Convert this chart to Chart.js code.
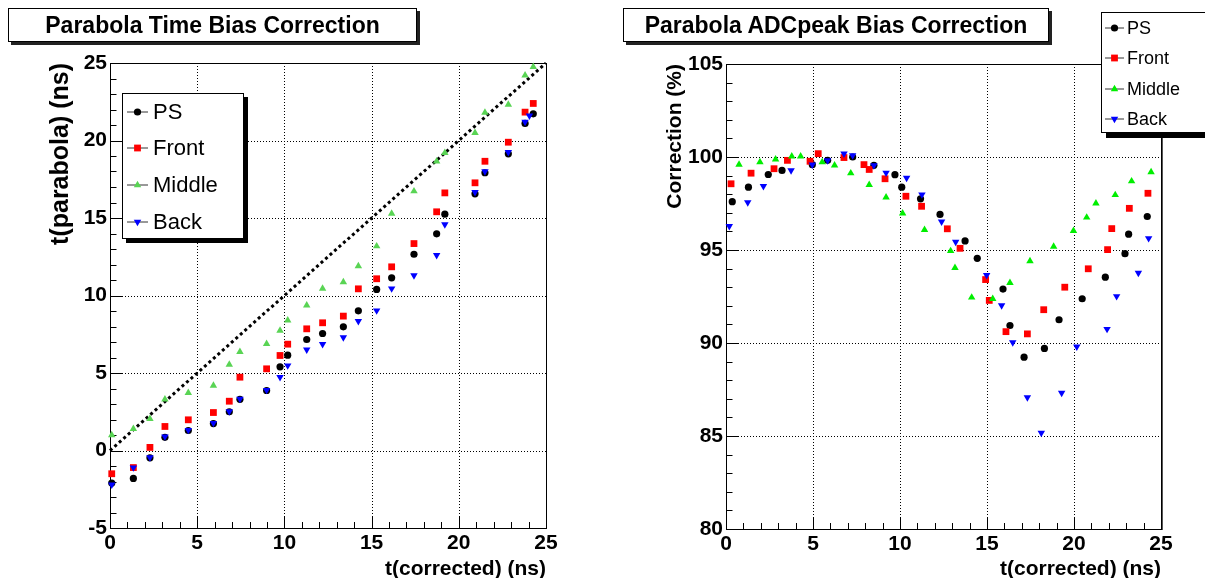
<!DOCTYPE html>
<html><head><meta charset="utf-8">
<script src="https://cdn.jsdelivr.net/npm/chart.js@4.4.1/dist/chart.umd.min.js"></script>
<style>
html,body{margin:0;padding:0;background:#fff}
body{width:1205px;height:578px;position:relative;overflow:hidden;font-family:'Liberation Sans',Arial,Helvetica,sans-serif}
canvas{position:absolute;top:0}
#c1{left:0}
#c2{left:602px}
.tbox{position:absolute;border:1px solid #000;background:#fff;box-shadow:3px 3px 0 #222;font-weight:bold;font-size:23px;text-align:center;box-sizing:border-box;color:#000}
.leg{position:absolute;border:1px solid #000;background:#fff;box-sizing:border-box}
.row{position:absolute;left:0;display:flex;align-items:center;white-space:nowrap;color:#000}
.row svg{display:block}
</style>
</head><body>
<canvas id="c1" width="602" height="578"></canvas>
<canvas id="c2" width="603" height="578"></canvas>
<div class="tbox" id="t1" style="left:8px;top:8px;width:409px;height:34px;line-height:32px">Parabola Time Bias Correction</div>
<div class="tbox" id="t2" style="left:623px;top:8px;width:426px;height:34px;line-height:32px">Parabola ADCpeak Bias Correction</div>
<div class="leg" id="leg1" style="left:122px;top:93px;width:122px;height:146px;box-shadow:4px 4px 0 #000"></div>
<div class="leg" id="leg2" style="left:1101px;top:12px;width:120px;height:121px;box-shadow:5px 5px 0 #000"></div>
<script>
// ---------- data ----------
const seriesNames = ['PS', 'Front', 'Middle', 'Back'];

// Left: Parabola Time Bias Correction
const timeX      = [0.1, 1.34, 2.29, 3.15, 4.49, 5.93, 6.84, 7.45, 8.98, 9.75, 10.19, 11.28, 12.19, 13.38, 14.24, 15.29, 16.15, 17.43, 18.73, 19.2, 20.93, 21.5, 22.84, 23.8, 24.27];
const timePS     = [-2.1, -1.8, -0.47, 0.85, 1.29, 1.74, 2.5, 3.3, 3.87, 5.4, 6.15, 7.16, 7.55, 7.98, 9.01, 10.39, 11.14, 12.66, 13.98, 15.25, 16.56, 17.92, 19.14, 21.1, 21.72];
const timeFront  = [-1.5, -1.1, 0.2, 1.55, 1.98, 2.45, 3.18, 4.73, 5.27, 6.13, 6.86, 7.85, 8.24, 8.67, 10.43, 11.08, 11.85, 13.35, 15.4, 16.62, 17.27, 18.66, 19.89, 21.83, 22.39];
const timeMiddle = [1.0, 1.4, 2.05, 3.3, 3.72, 4.19, 5.55, 6.37, 6.88, 7.74, 8.4, 9.37, 10.45, 10.86, 11.9, 13.18, 15.29, 16.73, 18.66, 19.2, 20.5, 21.8, 22.32, 24.21, 24.75];
const timeBackX  = [0.1, 1.34, 2.29, 3.15, 4.49, 5.93, 6.84, 7.45, 8.98, 9.75, 10.19, 11.28, 12.19, 13.38, 14.24, 15.29, 16.15, 17.43, 18.73, 19.2, 20.93, 21.5, 22.84, 23.8, 24.05];
const timeBack   = [-2.2, -1.1, -0.45, 0.9, 1.32, 1.77, 2.52, 3.33, 3.9, 4.73, 5.48, 6.5, 6.86, 7.29, 8.34, 9.03, 10.45, 11.29, 12.6, 14.58, 16.66, 18.0, 19.25, 21.2, 21.6];
const diagX = [0, 25];
const diagY = [0, 25];

// Right: Parabola ADCpeak Bias Correction
const adcPSX     = [0.36, 1.29, 2.43, 3.22, 4.96, 5.84, 7.28, 8.5, 9.71, 10.1, 11.18, 12.3, 13.74, 14.44, 15.92, 16.32, 17.13, 18.3, 19.14, 20.47, 21.8, 22.93, 23.14, 24.21];
const adcPSY     = [97.6, 98.38, 99.06, 99.28, 99.59, 99.82, 100.0, 99.55, 99.05, 98.38, 97.75, 96.91, 95.49, 94.55, 92.9, 90.94, 89.24, 89.71, 91.25, 92.38, 93.54, 94.8, 95.85, 96.8];
const adcFrontX  = [0.29, 1.44, 2.76, 3.53, 4.83, 5.3, 6.78, 7.93, 8.23, 9.14, 10.34, 11.24, 12.72, 13.45, 14.92, 15.13, 16.09, 17.32, 18.26, 19.47, 20.82, 21.93, 22.17, 23.18, 24.25];
const adcFrontY  = [98.56, 99.13, 99.37, 99.82, 99.77, 100.18, 99.97, 99.59, 99.33, 98.83, 97.89, 97.35, 96.14, 95.09, 93.41, 92.29, 90.61, 90.49, 91.79, 93.0, 93.99, 95.02, 96.15, 97.24, 98.05];
const adcMiddleX = [0.75, 1.95, 2.85, 3.78, 4.29, 5.53, 6.24, 7.17, 8.23, 9.2, 10.15, 11.41, 12.91, 13.16, 14.12, 15.33, 16.32, 17.47, 18.83, 19.97, 20.73, 21.26, 22.37, 23.31, 24.43];
const adcMiddleY = [99.59, 99.73, 99.87, 100.04, 100.04, 99.73, 99.55, 99.13, 98.5, 97.83, 96.97, 96.08, 94.95, 94.04, 92.45, 92.38, 93.23, 94.4, 95.18, 96.03, 96.75, 97.51, 97.96, 98.7, 99.19];
const adcBackX   = [0.19, 1.25, 2.15, 3.74, 4.96, 5.84, 6.78, 7.28, 8.5, 9.2, 10.38, 11.26, 12.39, 13.2, 14.98, 15.84, 16.48, 17.32, 18.12, 19.29, 20.16, 21.9, 22.45, 23.7, 24.29];
const adcBackY   = [96.28, 97.56, 98.43, 99.28, 99.59, 99.82, 100.18, 100.09, 99.55, 99.15, 98.88, 97.98, 96.52, 95.43, 93.65, 92.02, 90.03, 87.07, 85.17, 87.32, 89.8, 90.75, 92.51, 93.77, 95.63];

// tick values
const xTicks = [0, 5, 10, 15, 20, 25];
const timeYTicks = [-5, 0, 5, 10, 15, 20, 25];
const adcYTicks = [80, 85, 90, 95, 100, 105];

// ---------- styles ----------
const FONT = "'Liberation Sans', Arial, Helvetica, sans-serif";
const timeColors = ['#000000', '#ff0000', '#59d454', '#0000ff'];
const adcColors  = ['#000000', '#ff0000', '#00ee00', '#0000ff'];
const mStyle = ['circle', 'rect', 'triangle', 'triangle'];
const mRot   = [0, 0, 0, 180];
const mRad   = [3.6, 4.8, 4.3, 4.3];

function pts(xs, ys) { return xs.map((x, i) => ({x: x, y: ys[i]})); }

function seriesDS(i, data, colors) {
  return {
    label: seriesNames[i], data: data, showLine: false,
    pointStyle: mStyle[i], pointRotation: mRot[i], pointRadius: mRad[i],
    pointHoverRadius: mRad[i],
    backgroundColor: colors[i], borderColor: colors[i], pointBorderWidth: 0,
    order: 4 - i, clip: false
  };
}

const rootFrame = {
  id: 'rootFrame',
  beforeDatasetsDraw(chart, args, o) {
    const {ctx, chartArea: a, scales: {x, y}} = chart;
    ctx.save();
    ctx.strokeStyle = '#000'; ctx.lineWidth = 1; ctx.setLineDash([1, 2]);
    o.xt.forEach(v => {
      if (v <= x.min || v >= x.max) return;
      const p = Math.round(x.getPixelForValue(v)) + 0.5;
      ctx.beginPath(); ctx.moveTo(p, a.top); ctx.lineTo(p, a.bottom); ctx.stroke();
    });
    o.yt.forEach(v => {
      if (v <= y.min || v >= y.max) return;
      const p = Math.round(y.getPixelForValue(v)) + 0.5;
      ctx.beginPath(); ctx.moveTo(a.left, p); ctx.lineTo(a.right, p); ctx.stroke();
    });
    ctx.setLineDash([]);
    for (let v = x.min; v <= x.max + 1e-9; v += 1) {
      const major = Math.abs(v / 5 - Math.round(v / 5)) < 1e-9;
      const p = Math.round(x.getPixelForValue(v)) + 0.5;
      ctx.beginPath(); ctx.moveTo(p, a.bottom); ctx.lineTo(p, a.bottom - (major ? 12 : 6)); ctx.stroke();
    }
    for (let v = y.min; v <= y.max + 1e-9; v += 1) {
      const major = Math.abs(v / 5 - Math.round(v / 5)) < 1e-9;
      const p = Math.round(y.getPixelForValue(v)) + 0.5;
      ctx.beginPath(); ctx.moveTo(a.left, p); ctx.lineTo(a.left + (major ? 13 : 6.5), p); ctx.stroke();
    }
    ctx.strokeRect(Math.round(a.left) + 0.5, Math.round(a.top) + 0.5, Math.round(a.right - a.left), Math.round(a.bottom - a.top));
    if (o.thickRight) {
      ctx.strokeStyle = '#555';
      ctx.beginPath(); ctx.moveTo(Math.round(a.right) + 1.5, a.top); ctx.lineTo(Math.round(a.right) + 1.5, a.bottom + 1); ctx.stroke();
    }
    ctx.restore();
  }
};

function makeOptions(cfg) {
  return {
    responsive: false, animation: false, devicePixelRatio: 1,
    layout: {padding: {left: 0, top: cfg.top, right: cfg.right, bottom: 0}},
    plugins: {legend: {display: false}, tooltip: {enabled: false}, rootFrame: cfg.frame},
    scales: {
      x: {
        type: 'linear', min: 0, max: 25,
        afterBuildTicks: s => { s.ticks = xTicks.map(v => ({value: v})); },
        afterFit: s => { s.height = cfg.xh; },
        grid: {display: false, drawTicks: false}, border: {display: false},
        ticks: {color: '#000', font: {family: FONT, size: 21, weight: 'bold'}, padding: 3, maxRotation: 0, autoSkip: false},
        title: {display: true, text: 't(corrected) (ns)', align: 'end', color: '#000',
                font: {family: FONT, size: 21, weight: 'bold'}, padding: {top: 0, bottom: -4}}
      },
      y: {
        type: 'linear', min: cfg.ymin, max: cfg.ymax,
        afterBuildTicks: s => { s.ticks = cfg.yt.map(v => ({value: v})); },
        afterFit: s => { s.width = cfg.yw; },
        grid: {display: false, drawTicks: false}, border: {display: false},
        ticks: {color: '#000', font: {family: FONT, size: 21, weight: 'bold'}, padding: 3, autoSkip: false},
        title: {display: true, text: cfg.ytitle, align: 'end', color: '#000',
                font: {family: FONT, size: cfg.ytfs, weight: 'bold'}, padding: {top: cfg.ytp, bottom: 0}}
      }
    }
  };
}

const leftDS = [
  seriesDS(0, pts(timeX, timePS), timeColors),
  seriesDS(1, pts(timeX, timeFront), timeColors),
  seriesDS(2, pts(timeX, timeMiddle), timeColors),
  seriesDS(3, pts(timeBackX, timeBack), timeColors),
  {label: 'diag', data: pts(diagX, diagY), showLine: true, borderColor: '#000', borderWidth: 3,
   borderDash: [3, 3], pointRadius: 0, order: 10, clip: false}
];
new Chart(document.getElementById('c1'), {
  type: 'scatter', data: {datasets: leftDS},
  options: makeOptions({top: 63, right: 56, xh: 50, yw: 110, ymin: -5, ymax: 25, yt: timeYTicks,
    ytitle: 't(parabola) (ns)', ytfs: 25, ytp: 46, frame: {xt: xTicks, yt: timeYTicks, thickRight: false}}),
  plugins: [rootFrame]
});

const rightDS = [
  seriesDS(0, pts(adcPSX, adcPSY), adcColors),
  seriesDS(1, pts(adcFrontX, adcFrontY), adcColors),
  seriesDS(2, pts(adcMiddleX, adcMiddleY), adcColors),
  seriesDS(3, pts(adcBackX, adcBackY), adcColors)
];
new Chart(document.getElementById('c2'), {
  type: 'scatter', data: {datasets: rightDS},
  options: makeOptions({top: 64, right: 44, xh: 49, yw: 124, ymin: 80, ymax: 105, yt: adcYTicks,
    ytitle: 'Correction (%)', ytfs: 21, ytp: 61, frame: {xt: xTicks, yt: adcYTicks, thickRight: true}}),
  plugins: [rootFrame]
});

// ---------- legends (HTML) ----------
function markerSVG(i, color, w, h) {
  const cx = w / 2, cy = h / 2, r = mRad[i];
  let shape;
  if (mStyle[i] === 'circle') shape = `<circle cx="${cx}" cy="${cy}" r="${r}" fill="${color}"/>`;
  else if (mStyle[i] === 'rect') { const s = r * Math.SQRT2; shape = `<rect x="${cx - s/2}" y="${cy - s/2}" width="${s}" height="${s}" fill="${color}"/>`; }
  else {
    const d = mRot[i] ? -1 : 1;
    shape = `<polygon points="${cx},${cy - d*r} ${cx + r*0.866},${cy + d*r/2} ${cx - r*0.866},${cy + d*r/2}" fill="${color}"/>`;
  }
  return `<svg width="${w}" height="${h}"><line x1="0" y1="${cy}" x2="${w}" y2="${cy}" stroke="#333" stroke-width="1"/>${shape}</svg>`;
}
function buildLegend(id, colors, rowY, lineW, gap, fs, padL) {
  const el = document.getElementById(id);
  seriesNames.forEach((n, i) => {
    const row = document.createElement('div');
    row.className = 'row';
    row.style.top = (rowY[i] - 15) + 'px';
    row.style.height = '30px';
    row.style.left = padL + 'px';
    row.style.fontSize = fs + 'px';
    row.innerHTML = markerSVG(i, colors[i], lineW, 12) + `<span style="margin-left:${gap}px">${n}</span>`;
    el.appendChild(row);
  });
}
buildLegend('leg1', timeColors, [18, 54, 91, 128], 21, 5, 22, 4);
buildLegend('leg2', adcColors, [15, 45, 76, 106], 19, 3, 18, 3);
</script>
</body></html>
